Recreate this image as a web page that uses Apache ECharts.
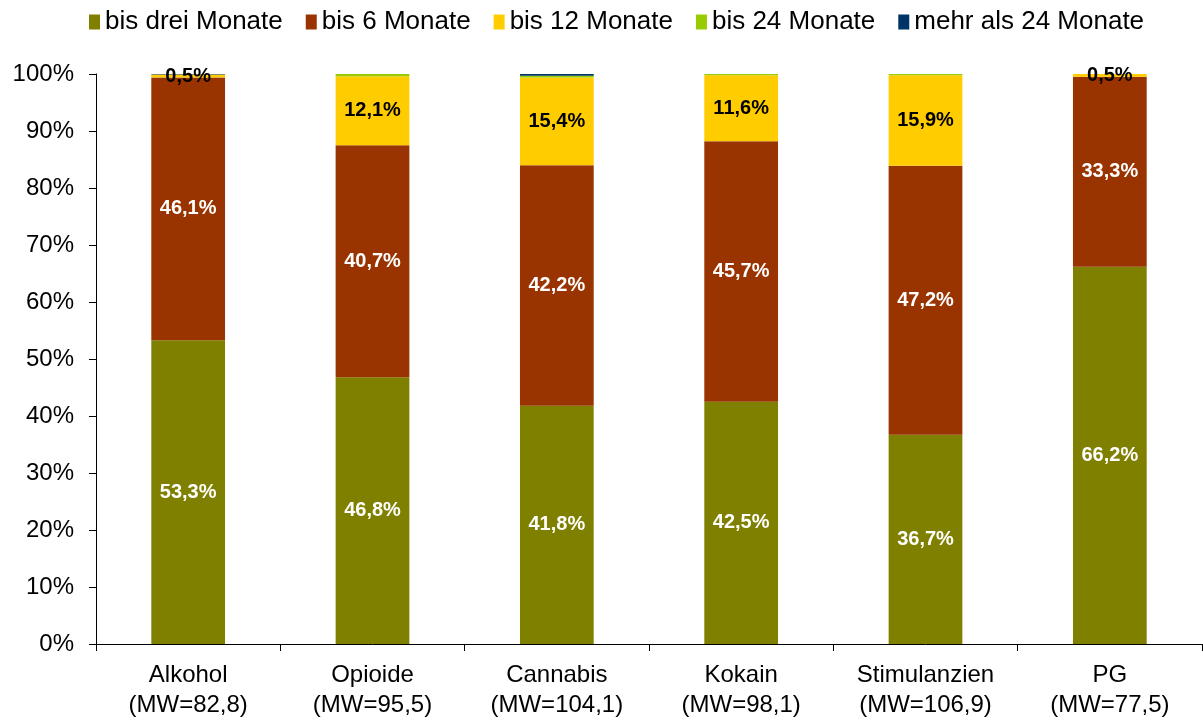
<!DOCTYPE html>
<html>
<head>
<meta charset="utf-8">
<script src="https://cdn.jsdelivr.net/npm/echarts@6/dist/echarts.min.js"></script>
<style>
  html, body { margin: 0; padding: 0; background: #ffffff; }
  #main { width: 1203px; height: 720px; }
</style>
</head>
<body>
<div id="main"></div>
<script>
var categories = ['Alkohol\n(MW=82,8)', 'Opioide\n(MW=95,5)', 'Cannabis\n(MW=104,1)',
  'Kokain\n(MW=98,1)', 'Stimulanzien\n(MW=106,9)', 'PG\n(MW=77,5)'];
var seriesNames = ['bis drei Monate', 'bis 6 Monate', 'bis 12 Monate', 'bis 24 Monate', 'mehr als 24 Monate'];
var bisDrei = [53.3, 46.8, 41.8, 42.5, 36.7, 66.2];
var bisSechs = [46.1, 40.7, 42.2, 45.7, 47.2, 33.3];
var bisZwoelf = [0.5, 12.1, 15.4, 11.6, 15.9, 0.5];
var bisVierundzwanzig = [0.0, 0.4, 0.3, 0.2, 0.2, 0.0];
var mehrAls24 = [0.1, 0.0, 0.3, 0.0, 0.0, 0.0];
var yTicks = [0, 10, 20, 30, 40, 50, 60, 70, 80, 90, 100];

var chart = echarts.init(document.getElementById('main'), null, { renderer: 'canvas' });

var font = 'Liberation Sans, Arial, sans-serif';
var colors = ['#808000', '#993300', '#FFCC00', '#99CC00', '#003366'];
var labelColors = ['#ffffff', '#ffffff', '#000000', '#000000', '#ffffff'];
var showLabel = [true, true, true, false, false];
var allValues = [bisDrei, bisSechs, bisZwoelf, bisVierundzwanzig, mehrAls24];

function fmt(v) {
  return v.toFixed(1).replace('.', ',') + '%';
}

var series = seriesNames.map(function (name, i) {
  return {
    name: name,
    type: 'bar',
    stack: 'total',
    barWidth: '40%',
    data: allValues[i],
    itemStyle: { color: colors[i] },
    label: {
      show: showLabel[i],
      position: 'inside',
      color: labelColors[i],
      fontFamily: font,
      fontWeight: 'bold',
      fontSize: 20,
      formatter: function (p) { return fmt(p.value); }
    }
  };
});

var option = {
  backgroundColor: '#ffffff',
  animation: false,
  color: colors,
  legend: {
    top: 4,
    left: 84,
    icon: 'rect',
    itemWidth: 11,
    itemHeight: 15,
    itemGap: 23,
    textStyle: { fontFamily: font, fontSize: 26, color: '#000000' },
    data: seriesNames
  },
  grid: { left: 96, right: 1, top: 74, bottom: 76 },
  xAxis: {
    type: 'category',
    data: categories,
    axisLine: { lineStyle: { color: '#000000', width: 1 } },
    axisTick: { show: true, length: 7, lineStyle: { color: '#000000' } },
    axisLabel: {
      fontFamily: font,
      fontSize: 24,
      color: '#000000',
      lineHeight: 30,
      margin: 16,
      interval: 0
    }
  },
  yAxis: {
    type: 'value',
    min: yTicks[0],
    max: yTicks[yTicks.length - 1],
    interval: 10,
    axisLine: { show: true, lineStyle: { color: '#000000', width: 1 } },
    axisTick: { show: true, length: 7, lineStyle: { color: '#000000' } },
    splitLine: { show: false },
    axisLabel: {
      fontFamily: font,
      fontSize: 24,
      color: '#000000',
      margin: 22,
      formatter: '{value}%'
    }
  },
  series: series
};

chart.setOption(option);
</script>
</body>
</html>
